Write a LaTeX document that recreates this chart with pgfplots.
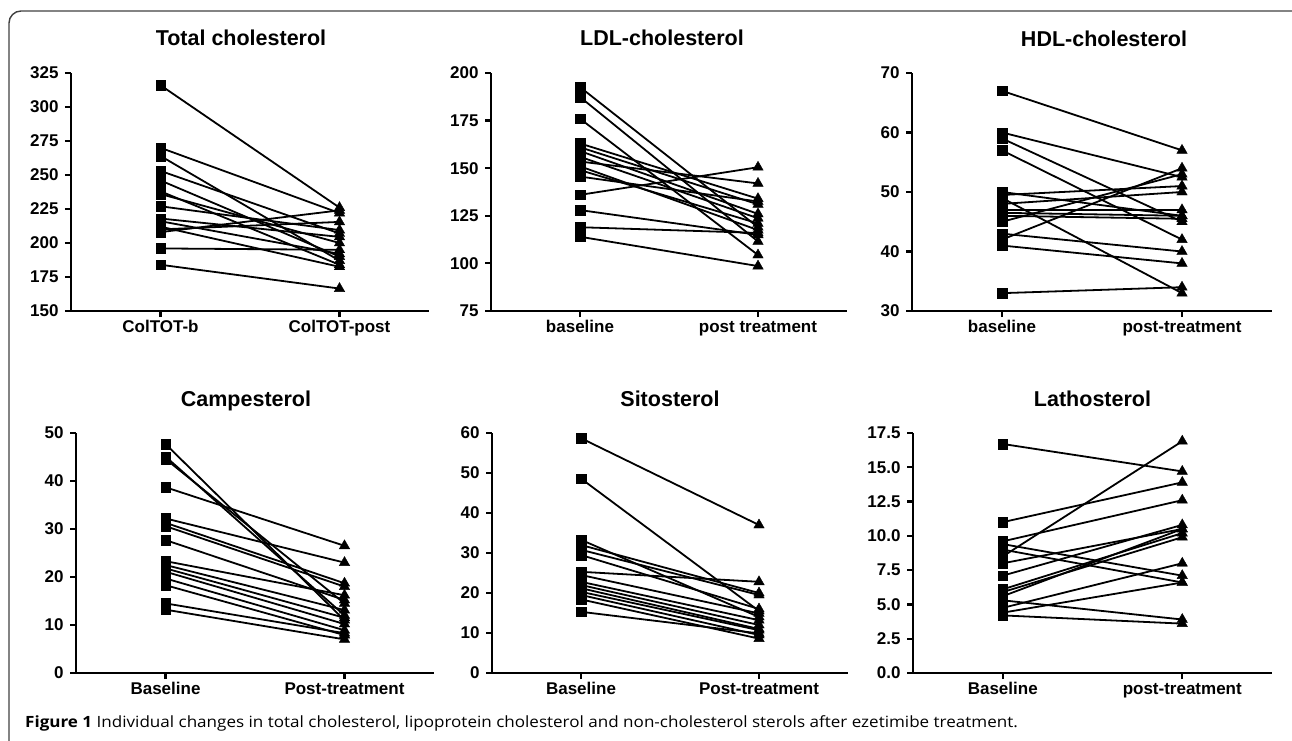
\documentclass[border=0pt]{standalone}
\usepackage{pgfplots}
\pgfplotsset{compat=1.18}
\usepackage{pgfplotstable}
\usepackage{fontspec}
\setmainfont{Liberation Sans}
\newfontfamily\capfont{Open Sans}

\pgfplotstableread{
b p
316 226
270 222
264 187
253 207
246 190
238 184
236 200
227 209.5
218 204.5
216 192
212 182.5
210 215.5
208 224
196 195
184 166.5
}\totchol
\pgfplotstableread{
b p
192.6 119
187.4 111.5
176 104.4
163 134
161 131
159 126
156 123.7
153.5 142
151 117.5
149 121
145.6 132.5
136 150.5
128 115
119 116
114 98.6
}\ldl
\pgfplotstableread{
b p
67 57
60 52.5
59 45
57 42
50 46
49.5 51
49 33
48 50
47 47
46.5 46
46 45.5
45 53
43 40
42 54
41 38
33 34
}\hdl
\pgfplotstableread{
b p
47.7 11
45.1 12
44.6 14.5
38.7 26.5
32.2 23
31.3 18.7
30.6 18
27.7 15.2
23.3 16.2
22.5 13.1
21.8 11.5
21.1 10.2
19.7 8.9
18.3 7.9
14.5 8.3
13.2 7
}\campe
\pgfplotstableread{
b p
58.7 37
48.6 15.5
33.3 14
32 20
30.8 19.5
29.5 16
25.3 22.8
24.5 14.9
22.8 13.2
22 12
21.2 11
20.3 10.7
19.5 9.5
18.4 8.6
15.3 9.9
}\sito
\pgfplotstableread{
b p
16.7 14.7
11 13.9
9.6 12.6
9.4 7.1
9.0 6.6
8.5 16.9
8.0 10.5
7.1 10.8
6.1 10.2
5.9 9.9
5.6 10.5
5.3 3.9
4.75 8.0
4.4 6.6
4.2 3.6
}\latho

\pgfplotsset{
  panel/.style={
    scale only axis,
    axis x line*=bottom, axis y line*=left,
    xmin=-0.5, xmax=1.5, xtick={0,1},
    tick align=outside, major tick length=6pt,
    axis line style={line width=2.6pt, black},
    every tick/.style={line width=2.2pt, black},
    /pgf/number format/assume math mode=true,
    tick label style={font=\fontsize{17}{17}\selectfont\bfseries},
    yticklabel style={xshift=-3pt},
    xticklabel style={text height=12.5pt, text depth=3pt, yshift=1pt},
    title style={font=\fontsize{21.5}{21.5}\selectfont\bfseries, at={(axis description cs:0.5,1)}, anchor=base, yshift=21pt},
    clip=false,
  },
  seg/.style={quiver={u=1, v=\thisrow{p}-\thisrow{b}}, black, line width=1.8pt, -},
  bmark/.style={only marks, mark=square*, mark size=4.8pt, black},
  pmark/.style={only marks, mark=triangle*, mark size=6pt, black},
}

\newcommand{\panel}[1]{%
  \addplot[seg] table[x expr=0, y=b] {#1};
  \addplot[bmark] table[x expr=0, y=b] {#1};
  \addplot[pmark] table[x expr=1, y=p] {#1};
}

\begin{document}
\begin{tikzpicture}
\path[use as bounding box] (0pt,0pt) rectangle (1292pt,740pt);
\draw[line width=1.4pt, black!75, rounded corners=12pt] (9pt,-30pt) -- (9pt,729pt) -- (1320pt,729pt);

% Top row
\begin{axis}[panel, at={(71pt,429pt)}, anchor=south west, width=358pt, height=238pt,
  ymin=150, ymax=325, ytick={150,175,...,325},
  xticklabels={ColTOT-b, ColTOT-post},
  title={Total cholesterol}, title style={xshift=-9pt}]
\panel{\totchol}
\end{axis}

\begin{axis}[panel, at={(491pt,429pt)}, anchor=south west, width=356pt, height=238pt,
  ymin=75, ymax=200, ytick={75,100,...,200},
  xticklabels={baseline, post treatment},
  title={LDL-cholesterol}, title style={xshift=-7pt}]
\panel{\ldl}
\end{axis}

\begin{axis}[panel, at={(912pt,429pt)}, anchor=south west, width=360pt, height=238pt,
  ymin=30, ymax=70, ytick={30,40,...,70},
  xticklabels={baseline, post-treatment},
  title={HDL-cholesterol}, title style={xshift=12pt}]
\panel{\hdl}
\end{axis}

% Bottom row
\begin{axis}[panel, at={(76pt,67pt)}, anchor=south west, width=358pt, height=240pt,
  ymin=0, ymax=50, ytick={0,10,...,50},
  xticklabels={Baseline, Post-treatment},
  title={Campesterol}, title style={xshift=-9pt}]
\panel{\campe}
\end{axis}

\begin{axis}[panel, at={(492pt,67pt)}, anchor=south west, width=356pt, height=240pt,
  ymin=0, ymax=60, ytick={0,10,...,60},
  xticklabels={Baseline, Post-treatment},
  title={Sitosterol}]
\panel{\sito}
\end{axis}

\begin{axis}[panel, at={(913pt,67pt)}, anchor=south west, width=359pt, height=240pt,
  ymin=0, ymax=17.5, ytick={0,2.5,...,17.5},
  yticklabel style={/pgf/number format/.cd, fixed, fixed zerofill, precision=1},
  xticklabels={Baseline, post-treatment},
  title={Lathosterol}]
\panel{\latho}
\end{axis}

\node[anchor=base west, inner sep=0pt] at (25pt,13pt) {\scalebox{1.1}[1]{\capfont\fontsize{15.5}{15.5}\selectfont\textbf{Figure 1} Individual changes in total cholesterol, lipoprotein cholesterol and non-cholesterol sterols after ezetimibe treatment.}};
\end{tikzpicture}
\end{document}
